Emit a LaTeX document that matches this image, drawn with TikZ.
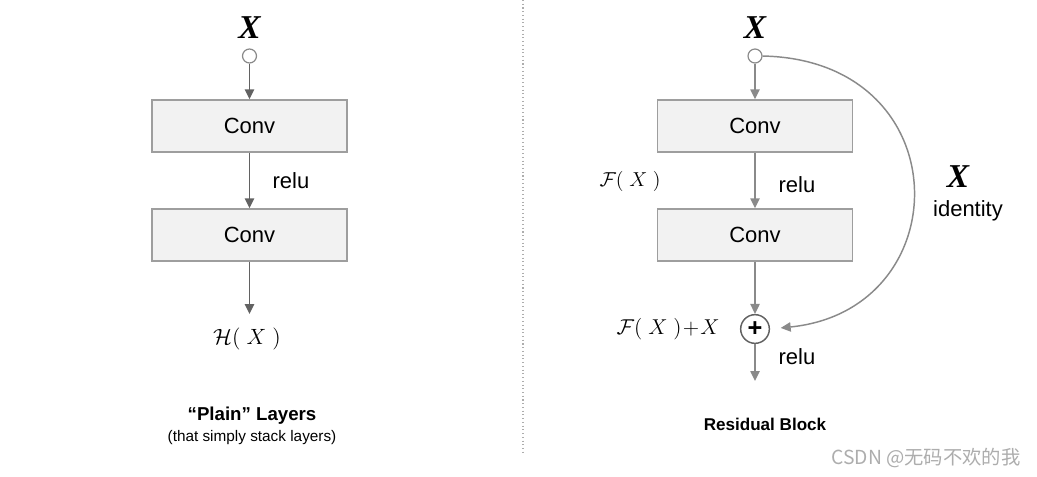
\documentclass[tikz,border=0pt]{standalone}
\usepackage{fontspec}
\usepackage{amsmath,amssymb}
\usepackage{graphicx}
\setsansfont{Liberation Sans}
\newfontfamily\cjk{Noto Sans CJK SC}
\newfontfamily\xserif{Liberation Serif}
\usetikzlibrary{arrows.meta,positioning}
\definecolor{boxfill}{HTML}{F2F2F2}
\definecolor{boxline}{HTML}{9E9E9E}
\definecolor{darkarrow}{HTML}{626262}
\definecolor{lightarrow}{HTML}{8A8A8A}
\definecolor{marksgray}{HTML}{ADADAD}

\begin{document}
\begin{tikzpicture}[x=0.75pt, y=-0.75pt,
      layer/.style={draw=boxline, line width=1.1pt, fill=boxfill, minimum width=146.25pt,
                    minimum height=39pt, inner sep=0pt, font=\sffamily\fontsize{16.5}{18}\selectfont},
      inport/.style={circle, draw=lightarrow, line width=0.9pt, fill=white, minimum size=10.5pt, inner sep=0pt},
      addop/.style={circle, draw=darkarrow, line width=1.1pt, fill=white, minimum size=21.5pt, inner sep=0pt,
                    font=\sffamily\bfseries\fontsize{19}{19}\selectfont},
      lbl/.style={font=\sffamily\fontsize{16.5}{18}\selectfont, inner sep=0pt},
      bigx/.style={font=\xserif\bfseries\itshape\fontsize{25}{25}\selectfont, inner sep=0pt},
      mathlbl/.style={font=\fontsize{14.4}{17}\selectfont, inner sep=0pt},
      title/.style={font=\sffamily\bfseries\fontsize{14}{16}\selectfont, inner sep=0pt},
      arr/.style={-{Triangle[length=7.5pt, width=7pt]}, line width=1.1pt, draw=darkarrow},
      garr/.style={arr, draw=lightarrow}
    ]
    \useasboundingbox (0,0) rectangle (1037,476);

    % plain layers
    \node[bigx]   (xL)     at (249.5,28)  {X};
    \node[inport] (inL)    at (249.5,56)  {};
    \node[layer]  (convLa) at (249.5,126) {Conv};
    \node[layer]  (convLb) at (249.5,235) {Conv};
    \node[lbl]    (reluL)  at (291,181) {relu};
    \coordinate   (endL)   at (249.5,314);
    \node[mathlbl] (hL)    at (247,339) {\scalebox{1.15}{$\mathcal{H}(\;X\;)$}};
    \node[title]  (titleL) at (252,416) {``Plain'' Layers};
    \node[font=\sffamily\fontsize{11.5}{13}\selectfont, inner sep=0pt] (subL) at (252,438) {(that simply stack layers)};

    \draw[arr] (inL) -- (convLa);
    \draw[arr] (convLa) -- (convLb);
    \draw[arr] (convLb) -- (endL);

    % divider
    \draw[marksgray, line width=0.8pt, dotted] (523,0) -- (523,455);

    % residual block
    \node[bigx]   (xR)     at (755,28)  {X};
    \node[inport] (inR)    at (755,56)  {};
    \node[layer]  (convRa) at (755,126) {Conv};
    \node[layer]  (convRb) at (755,235) {Conv};
    \node[lbl]    (reluRa) at (797,185) {relu};
    \node[mathlbl] (fR)    at (630,181) {\scalebox{1.05}{$\mathcal{F}(\;X\;)$}};
    \node[addop]  (plus)   at (755,329) {+};
    \node[mathlbl] (sumR)  at (668,329) {\scalebox{1.12}{$\mathcal{F}(\;X\;)\!+\!X$}};
    \node[lbl]    (reluRb) at (797,357) {relu};
    \coordinate   (endR)   at (755,381);
    \node[bigx]   (xId)    at (958,177) {X};
    \node[lbl]    (idR)    at (968,211) {identity};
    \node[title, font=\sffamily\bfseries\fontsize{12.8}{15}\selectfont] (titleR) at (765,424) {Residual Block};

    \draw[garr] (inR) -- (convRa);
    \draw[garr] (convRa) -- (convRb);
    \draw[garr] (convRb) -- (plus);
    \draw[garr] (plus) -- (endR);
    \draw[garr, shorten >=8pt] (inR.east) .. controls +(198,4) and +(190,-19) .. (plus.east);

    % watermark
    \node[font=\cjk\fontsize{14.5}{16}\selectfont, text=marksgray] (mark) at (926,458) {CSDN @无码不欢的我};
\end{tikzpicture}
\end{document}
